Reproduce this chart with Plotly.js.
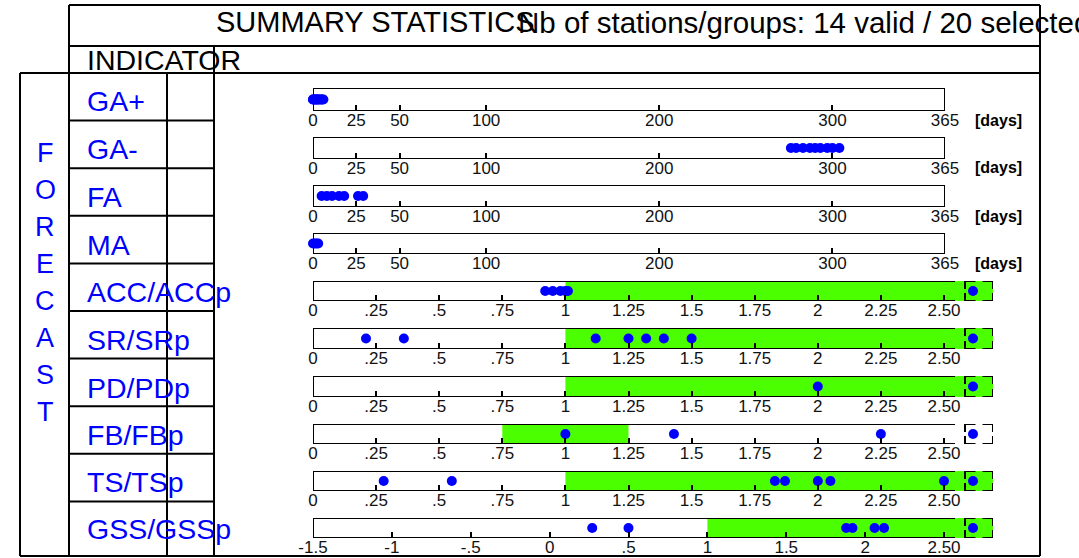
<!DOCTYPE html>
<html><head><meta charset="utf-8">
<script src="https://cdn.plot.ly/plotly-3.0.1.min.js"></script>
<style>html,body{margin:0;padding:0;background:#fff;overflow:hidden}#chart{width:1079px;height:558px}</style>
</head><body><div id="chart"></div>
<script>
// ---------------- DATA ----------------
const indicators = ["GA+","GA-","FA","MA","ACC/ACCp","SR/SRp","PD/PDp","FB/FBp","TS/TSp","GSS/GSSp"];
const scaleOf    = ["days","days","days","days","ratio","ratio","ratio","ratio","ratio","gss"];
const gaPlusDays  = [0,0,1,1,2,2,3,3,4,5,5,6];
const gaMinusDays = [276,279,283,287,290,293,297,300,304];
const faDays      = [5,8,11,15,18,26,29];
const maDays      = [0,1,2,3];
const accValues   = [0.92,0.95,0.98,1.0,1.01];
const srValues    = [0.21,0.36,1.12,1.25,1.32,1.39,1.5];
const pdValues    = [2.0];
const fbValues    = [1.0,1.43,2.25];
const tsValues    = [0.28,0.55,1.83,1.87,2.0,2.05,2.5];
const gssValues   = [0.27,0.5,1.88,1.92,2.06,2.12];
const overflowCounts = [0,0,0,0,1,1,1,1,1,1];     // values beyond 2.50 (shown in dashed box)
const greenFrom = [null,null,null,null,1,1,1,0.75,1,1];
const greenTo   = [null,null,null,null,null,null,null,1.25,null,null]; // null = open-ended
const daysTicks = [0,25,50,100,200,300,365];
const ratioTicks = [0,0.25,0.5,0.75,1,1.25,1.5,1.75,2,2.25,2.5];
const ratioTickText = ["0",".25",".5",".75","1","1.25","1.5","1.75","2","2.25","2.50"];
const gssTicks = [-1.5,-1,-0.5,0,0.5,1,1.5,2,2.5];
const gssTickText = ["-1.5","-1","-.5","0",".5","1","1.5","2","2.50"];
const titleText = "SUMMARY STATISTICS";
const subtitleText = "Nb of stations/groups: 14 valid / 20 selected";
const headerText = "INDICATOR";
const sideText = "FORECAST";
const unitText = "[days]";
const rowValues = [gaPlusDays,gaMinusDays,faDays,maDays,accValues,srValues,pdValues,fbValues,tsValues,gssValues];

// ---------------- LAYOUT (pixels) ----------------
const W=1079, H=558;
const FONT="Liberation Sans, Arial, sans-serif";
const BLUE="#0000ff", GREEN="#4cff00";
const px = x => x/W, py = y => 1 - y/H;
const AX_L = 313, BOX_END = 955, OVF_L = 965, OVF_R = 993, OVF_MARK = 973;
const SC = {
  days:  {v0:0,    ppu:(945-313)/365, right:945, ticks:daysTicks,  text:daysTicks.map(String)},
  ratio: {v0:0,    ppu:(944-313)/2.5, right:OVF_R, ticks:ratioTicks, text:ratioTickText},
  gss:   {v0:-1.5, ppu:(944-313)/4,   right:OVF_R, ticks:gssTicks,   text:gssTickText}
};
const boxTop = [88,137,185,233,281,328,376,424,471,518];
const boxBot = [111,159,207,254,301,349,397,444,491,538];

const data=[], shapes=[], annotations=[];
const layout = {width:W,height:H,margin:{l:0,r:0,t:0,b:0},paper_bgcolor:"#fff",plot_bgcolor:"rgba(0,0,0,0)",
  showlegend:false,font:{family:FONT,color:"#000"}};

indicators.forEach((name,i)=>{
  const n = i===0 ? "" : String(i+1);
  const sc = SC[scaleOf[i]];
  const val = p => sc.v0 + (p-AX_L)/sc.ppu;
  const xa="x"+n, ya="y"+n;
  layout["xaxis"+n] = {domain:[px(AX_L),px(sc.right)], range:[sc.v0, val(sc.right)], anchor:ya,
    tickmode:"array", tickvals:sc.ticks, ticktext:sc.text, ticks:"inside", ticklen:6, tickwidth:2, tickcolor:"#000",
    ticklabelstandoff:-3,
    showline:false, showgrid:false, zeroline:false, tickangle:0, fixedrange:true,
    tickfont:{family:FONT,size:17,color:"#111"}};
  layout["yaxis"+n] = {domain:[py(boxBot[i]),py(boxTop[i])], range:[0,1], visible:false, anchor:xa, fixedrange:true};

  const bh = boxBot[i]-boxTop[i];
  // green band
  if (greenFrom[i]!==null){
    shapes.push({type:"rect",xref:xa,yref:ya,x0:greenFrom[i],x1:(greenTo[i]===null?val(OVF_R):greenTo[i]),y0:0,y1:1,
      fillcolor:GREEN,line:{width:0},layer:"below"});
  }
  // main box
  if (scaleOf[i]==="days"){
    shapes.push({type:"rect",xref:xa,yref:ya,x0:0,x1:365,y0:0,y1:1,line:{color:"#000",width:2},layer:"below"});
  } else {
    const e = val(BOX_END), s = sc.v0;
    shapes.push({type:"path",xref:xa,yref:ya,path:`M${e},1 L${s},1 L${s},0 L${e},0`,line:{color:"#000",width:2},layer:"below"});
    // overflow dashed corner box
    const x0=val(OVF_L), x1=val(OVF_R), a=10.5/sc.ppu, b=8/bh;
    const p = `M${x0+a},1 L${x0},1 L${x0},${1-b} M${x1-a},1 L${x1},1 L${x1},${1-b} `+
              `M${x0+a},0 L${x0},0 L${x0},${b} M${x1-a},0 L${x1},0 L${x1},${b}`;
    shapes.push({type:"path",xref:xa,yref:ya,path:p,line:{color:"#000",width:2},layer:"below"});
  }
  // points
  const xs = rowValues[i].slice();
  for (let k=0;k<overflowCounts[i];k++) xs.push(val(OVF_MARK));
  data.push({type:"scatter",mode:"markers",x:xs,y:xs.map(()=>0.5),xaxis:xa,yaxis:ya,
    marker:{color:BLUE,size:10,line:{width:0}},hoverinfo:"skip",cliponaxis:false});
  // labels
  annotations.push({xref:"paper",yref:"paper",x:px(85),y:py((boxTop[i]+boxBot[i])/2+1),xanchor:"left",yanchor:"middle",
    text:name,showarrow:false,font:{family:FONT,size:28.5,color:BLUE}});
  if (scaleOf[i]==="days"){
    annotations.push({xref:"paper",yref:"paper",x:px(998),y:py(boxBot[i]+9),xanchor:"center",yanchor:"middle",
      text:"<b>"+unitText+"</b>",showarrow:false,font:{family:FONT,size:16,color:"#000"}});
  }
});

// header texts
annotations.push({xref:"paper",yref:"paper",x:px(214),y:py(22),xanchor:"left",yanchor:"middle",text:titleText,showarrow:false,font:{family:FONT,size:29,color:"#000"}});
annotations.push({xref:"paper",yref:"paper",x:px(516),y:py(22),xanchor:"left",yanchor:"middle",text:subtitleText,showarrow:false,font:{family:FONT,size:29.5,color:"#000"}});
annotations.push({xref:"paper",yref:"paper",x:px(85),y:py(60),xanchor:"left",yanchor:"middle",text:headerText,showarrow:false,font:{family:FONT,size:28.5,color:"#000"}});
sideText.split("").forEach((ch,k)=>{
  annotations.push({xref:"paper",yref:"paper",x:px(45),y:py(153+37*k),xanchor:"center",yanchor:"middle",text:ch,showarrow:false,font:{family:FONT,size:27,color:BLUE}});
});

// table lines
function hline(y,x0,x1){shapes.push({type:"line",xref:"paper",yref:"paper",x0:px(x0),x1:px(x1),y0:py(y),y1:py(y),line:{color:"#000",width:2}});}
function vline(x,y0,y1){shapes.push({type:"line",xref:"paper",yref:"paper",x0:px(x),x1:px(x),y0:py(y0),y1:py(y1),line:{color:"#000",width:2}});}
const BOTTOM=556;
hline(5,69,1040); hline(46,69,1040); hline(73,20,1040); hline(BOTTOM,20,1040);
for (let r=1;r<indicators.length;r++) hline(73+47.6*r,69,214);
vline(20,73,BOTTOM); vline(69,5,BOTTOM); vline(167,73,BOTTOM); vline(214,46,BOTTOM); vline(1040,5,BOTTOM);

layout.shapes=shapes; layout.annotations=annotations;
Plotly.newPlot("chart",data,layout,{displayModeBar:false,staticPlot:true});
</script></body></html>
